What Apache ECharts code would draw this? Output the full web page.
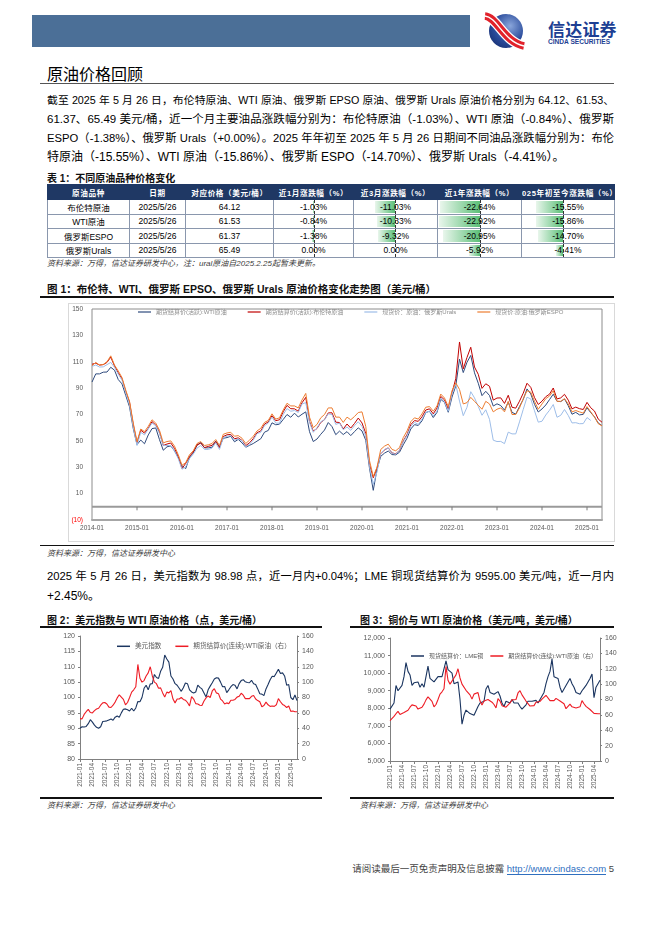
<!DOCTYPE html>
<html><head><meta charset="utf-8">
<script src="https://cdn.jsdelivr.net/npm/echarts@6/dist/echarts.min.js"></script>
<style>
body{margin:0;background:#fff;}
#page{position:relative;width:662px;height:936px;overflow:hidden;font-family:"Liberation Sans","Noto Sans CJK SC",sans-serif;color:#000;}
.abs{position:absolute;}
.line{position:absolute;left:47px;width:567px;height:19px;line-height:19px;font-size:12px;text-align:justify;text-align-last:justify;overflow:hidden;}
.line.last{text-align-last:left;}
.cap{position:absolute;font-size:10px;font-weight:bold;color:#111;white-space:nowrap;}
.src{position:absolute;font-size:8px;font-style:italic;color:#404040;white-space:nowrap;}
.rule{position:absolute;height:1.5px;background:#111;}
table.t{position:absolute;left:47px;top:184px;width:567px;border-collapse:collapse;table-layout:fixed;font-size:8.5px;}
table.t th{background:#1f3864;color:#fff;font-weight:bold;font-size:7.6px;height:14px;padding:0;letter-spacing:0.6px;border:1px solid #1f3864;white-space:nowrap;overflow:hidden;}
table.t td{height:13.5px;padding:0;text-align:center;border:1px solid #8a97ad;position:relative;white-space:nowrap;}
.bar{position:absolute;top:1px;bottom:1px;background:linear-gradient(to left,#5cbf78,#e9f6ec);}
.ax{position:absolute;top:0;bottom:0;width:0;border-left:1px dashed #333;}
.txt{position:relative;}
</style></head>
<body><div id="page">
<div class="abs" style="left:32px;top:15px;width:438px;height:32px;background:#4b6f97;"></div>
<svg class="abs" style="left:482px;top:11px;" width="44" height="40" viewBox="0 0 44 40">
<defs><radialGradient id="lg" cx="0.62" cy="0.35" r="0.85"><stop offset="0" stop-color="#8aa6db"/><stop offset="0.55" stop-color="#2a4c9c"/><stop offset="1" stop-color="#142866"/></radialGradient></defs>
<circle cx="24" cy="20" r="17" fill="url(#lg)"/>
<path d="M3 5 C 15 6, 22 31, 42 35" stroke="#fff" stroke-width="10" fill="none"/>
<path d="M3 5 C 15 6, 22 31, 42 35" stroke="#e1222b" stroke-width="7.5" fill="none"/>
<path d="M3 5 C 15 6, 22 31, 42 35" stroke="#fff" stroke-width="1.4" fill="none"/>
</svg>
<div class="abs" style="left:548px;top:16px;font-size:17px;font-weight:bold;color:#1d3f93;letter-spacing:0.2px;font-family:'Noto Sans CJK SC',sans-serif;white-space:nowrap;">信达证券</div>
<div class="abs" style="left:548px;top:38px;font-size:6.6px;font-weight:bold;color:#1d3f93;white-space:nowrap;">CINDA SECURITIES</div>

<div class="abs" style="left:47px;top:61px;font-size:16px;font-family:'Noto Sans CJK SC',sans-serif;white-space:nowrap;">原油价格回顾</div>
<div class="abs" style="left:40px;top:83px;width:574px;height:1px;background:#555;"></div>

<div class="line" style="top:91px;">截至 2025 年 5 月 26 日，布伦特原油、WTI 原油、俄罗斯 EPSO 原油、俄罗斯 Urals 原油价格分别为 64.12、61.53、</div>
<div class="line" style="top:110px;">61.37、65.49 美元/桶，近一个月主要油品涨跌幅分别为：布伦特原油（-1.03%）、WTI 原油（-0.84%）、俄罗斯</div>
<div class="line" style="top:129px;">ESPO（-1.38%）、俄罗斯 Urals（+0.00%）。2025 年年初至 2025 年 5 月 26 日期间不同油品涨跌幅分别为：布伦</div>
<div class="line last" style="top:148px;">特原油（-15.55%）、WTI 原油（-15.86%）、俄罗斯 ESPO（-14.70%）、俄罗斯 Urals（-4.41%）。</div>

<div class="cap" style="left:47px;top:170px;">表 1：不同原油品种价格变化</div>
<table class="t" id="tbl"></table>
<div class="src" style="left:47px;top:257px;">资料来源：万得，信达证券研发中心，注：ural原油自2025.2.25起暂未更新。</div>

<div class="cap" style="left:47px;top:281px;font-size:10.5px;">图 1：布伦特、WTI、俄罗斯 EPSO、俄罗斯 Urals 原油价格变化走势图（美元/桶）</div>
<div class="rule" style="left:40px;top:296px;width:574px;"></div>
<div class="abs" style="left:68px;top:303px;width:545px;height:237px;border:1px solid #d9d9d9;"></div>
<div class="abs" id="c1" style="left:47px;top:300px;width:567px;height:242px;"></div>
<div class="rule" style="left:40px;top:545px;width:574px;height:1px;"></div>
<div class="src" style="left:47px;top:547px;">资料来源：万得，信达证券研发中心</div>

<div class="line" style="top:567px;">2025 年 5 月 26 日，美元指数为 98.98 点，近一月内+0.04%；LME 铜现货结算价为 9595.00 美元/吨，近一月内</div>
<div class="line last" style="top:587px;">+2.45%。</div>

<div class="cap" style="left:47px;top:612px;">图 2：美元指数与 WTI 原油价格（点，美元/桶）</div>
<div class="rule" style="left:40px;top:626px;width:282px;"></div>
<div class="cap" style="left:360px;top:612px;">图 3：铜价与 WTI 原油价格（美元/吨，美元/桶）</div>
<div class="rule" style="left:350px;top:626px;width:264px;"></div>
<div class="abs" id="c2" style="left:40px;top:628px;width:295px;height:168px;"></div>
<div class="abs" id="c3" style="left:340px;top:628px;width:290px;height:168px;"></div>
<div class="rule" style="left:40px;top:797px;width:282px;"></div>
<div class="rule" style="left:350px;top:797px;width:264px;"></div>
<div class="src" style="left:47px;top:799px;">资料来源：万得，信达证券研发中心</div>
<div class="src" style="left:360px;top:799px;">资料来源：万得，信达证券研发中心</div>

<div class="abs" style="right:48px;top:861px;font-size:9.5px;color:#444;white-space:nowrap;">请阅读最后一页免责声明及信息披露 <span style="color:#2f6fbf;border-bottom:1px solid #2f6fbf;">http://www.cindasc.com</span> 5</div>
</div>
<script>
// ---------- table data ----------
const tableHeaders = ['原油品种','日期','对应价格（美元/桶）','近1月涨跌幅（%）','近3月涨跌幅（%）','近1年涨跌幅（%）','025年初至今涨跌幅（%）'];
const oilNames = ['布伦特原油','WTI原油','俄罗斯ESPO','俄罗斯Urals'];
const oilDates = ['2025/5/26','2025/5/26','2025/5/26','2025/5/26'];
const oilPrices = ['64.12','61.53','61.37','65.49'];
const chg1m = [-1.03,-0.84,-1.38,0.00];
const chg3m = [-11.03,-10.33,-9.32,0.00];
const chg1y = [-22.64,-22.92,-20.95,-5.92];
const chgYtd = [-15.55,-15.86,-14.70,-4.41];

// ---------- figure 1 (monthly, 2014-01 .. 2025-05) ----------
const brent = [108.1,108.9,107.5,107.8,109.5,113.5,106.8,101.6,97.1,87.4,79.4,62.3,
 48.5,58.1,55.9,59.5,64.6,62.0,56.5,46.5,47.6,48.4,44.3,38.0,
 29.0,33.0,38.2,41.6,46.9,48.3,44.9,45.8,46.6,49.5,44.8,53.3,
 54.6,54.9,51.6,52.3,50.3,46.4,48.5,51.7,56.2,57.5,62.7,64.4,
 69.1,65.3,66.0,72.1,76.9,74.4,74.3,72.5,78.9,83.0,64.8,57.4,
 59.4,64.0,66.1,71.2,71.3,64.2,63.9,59.0,62.8,59.7,63.2,67.3,
 63.6,55.7,32.0,22.0,29.4,40.3,43.2,44.7,40.9,40.2,42.7,49.9,
 54.8,62.3,65.4,64.8,68.3,73.4,74.3,70.5,74.9,83.7,81.1,74.2,
 86.5,97.1,125.0,104.6,113.3,121.0,106.0,100.5,89.8,93.3,91.4,80.9,
 82.5,82.6,78.4,84.6,75.5,74.8,80.1,86.2,93.7,90.6,82.9,77.6,
 80.1,83.5,85.4,90.1,81.8,82.6,85.3,80.9,74.3,75.6,74.4,73.8,
 79.2,75.1,72.6,66.5,64.12];
const wti = [94.6,100.8,100.8,102.1,102.2,105.8,103.6,96.5,93.2,84.4,75.8,59.3,
 47.2,50.6,47.8,54.5,59.3,59.8,50.9,42.9,45.5,46.2,42.4,37.2,
 31.0,29.0,37.5,40.8,46.7,48.8,44.7,44.7,45.2,49.8,45.7,52.0,
 52.5,53.5,49.3,51.1,48.5,45.2,46.6,48.0,49.8,51.6,56.6,57.9,
 63.7,62.2,62.7,66.3,70.0,67.9,71.0,68.1,70.2,72.0,57.0,49.5,
 51.4,55.0,58.2,63.9,60.8,54.7,57.4,54.8,57.0,54.0,57.0,59.9,
 57.5,50.5,29.2,12.5,28.5,38.3,40.7,42.3,39.6,39.4,41.4,47.0,
 52.0,59.0,62.3,61.7,65.2,71.4,72.5,67.7,71.6,81.5,79.2,71.7,
 83.2,91.6,112.0,101.8,109.6,114.8,101.6,93.7,84.3,87.6,84.4,76.4,
 78.1,76.8,73.3,79.4,71.6,70.3,76.1,81.4,89.4,85.6,77.7,71.9,
 74.2,77.2,81.3,85.4,80.0,79.8,81.8,76.7,70.2,71.6,69.7,70.1,
 75.1,71.4,68.2,63.5,61.53];
const urals = [106.5,107.5,106.0,106.1,107.8,109.5,105.7,100.6,96.0,86.5,77.5,60.5,
 46.5,56.5,54.5,59.0,63.5,61.5,55.5,46.5,46.5,46.5,42.5,36.5,
 28.5,30.5,36.5,40.0,44.5,46.5,43.5,43.5,44.5,48.5,43.5,52.5,
 53.5,54.0,50.5,51.5,50.0,45.5,47.5,50.5,55.5,56.5,61.5,63.5,
 68.0,63.5,63.5,70.0,74.5,72.5,73.0,71.5,78.0,79.0,64.0,56.5,
 60.0,64.5,66.0,70.5,70.0,62.5,63.5,58.5,60.5,58.0,61.5,64.5,
 61.0,53.5,30.5,17.0,26.5,40.5,43.5,44.5,41.0,39.8,43.0,49.5,
 54.0,61.0,64.0,62.5,66.5,71.5,72.5,69.0,72.5,82.5,79.5,72.5,
 85.6,92.9,80.2,69.1,75.5,87.3,82.6,76.1,69.4,73.6,66.3,50.5,
 49.5,49.6,47.9,56.6,55.3,55.3,64.4,73.9,83.1,81.8,72.8,64.2,
 64.9,69.6,73.2,77.6,67.9,69.4,73.8,69.3,63.6,63.8,63.0,63.1,
 67.7,65.49,null,null,null];
const espo = [107.0,109.5,107.5,108.0,110.0,114.5,107.5,103.0,98.0,88.5,80.0,63.5,
 49.5,59.0,57.0,61.0,66.0,63.5,58.0,48.5,49.5,50.0,46.0,39.5,
 31.5,33.5,39.5,42.5,48.0,49.5,46.5,47.0,48.0,51.0,46.5,55.0,
 56.0,56.5,53.5,54.0,52.0,48.0,50.5,53.5,57.5,59.5,64.0,65.5,
 70.5,66.5,67.5,73.5,78.5,76.5,76.5,75.0,81.0,86.0,68.0,60.0,
 62.5,67.5,70.0,75.0,75.0,68.0,68.0,64.0,68.0,66.0,68.5,71.5,
 72.0,61.0,35.0,23.0,30.0,43.5,46.0,47.5,43.5,42.5,45.0,52.5,
 57.5,64.5,67.5,66.5,70.5,75.5,76.0,72.5,76.5,85.5,82.5,76.0,
 88.0,94.0,89.0,78.0,79.0,83.0,80.0,77.0,74.0,80.0,78.0,72.0,
 74.0,75.0,72.0,80.0,70.0,70.0,75.0,82.0,88.0,87.0,80.0,74.0,
 78.0,82.0,84.0,88.0,80.0,80.0,82.0,78.0,72.0,73.0,72.0,71.0,
 76.0,72.0,68.0,63.0,61.37];
const fig1Names = ['期货结算价(活跃):WTI原油','期货结算价(活跃):布伦特原油','现货价：原油：俄罗斯Urals','现货价:原油:俄罗斯ESPO'];

// ---------- figures 2 & 3 (half-monthly, 2021-01 .. 2025-05) ----------
const dxy = [90.0,90.5,90.4,90.6,91.5,92.8,92.0,91.0,90.3,90.0,90.5,92.2,92.3,92.4,92.7,93.0,92.6,93.6,94.0,93.6,95.0,96.2,96.3,96.0,
 95.6,96.5,95.6,96.6,98.7,98.6,100.0,103.0,104.0,102.5,104.4,104.5,107.5,106.5,106.2,108.5,109.8,113.8,112.5,111.5,107.0,106.0,104.5,104.0,
 103.0,102.0,103.2,104.7,104.5,102.5,101.8,101.5,101.8,104.0,103.3,102.8,101.5,100.2,102.5,103.7,104.8,106.0,106.4,106.3,105.0,103.5,103.6,101.6,
 102.5,103.5,104.2,104.0,102.8,104.5,105.5,105.8,105.1,104.9,104.8,105.6,104.5,104.2,102.8,101.2,101.1,100.6,102.8,104.2,105.8,106.9,106.8,108.0,
 109.2,107.8,108.0,107.0,104.0,104.2,100.0,99.3,100.8,98.98];
const wtiCont = [52.5,52.2,58.0,61.5,64.5,60.5,60.0,63.0,65.0,66.0,70.0,73.0,73.5,71.5,67.5,67.0,70.0,74.0,79.5,83.5,80.5,77.5,70.5,73.5,
 80.0,87.0,90.0,94.0,123.0,105.0,100.0,102.0,108.0,112.0,120.0,108.0,100.0,98.0,92.0,92.5,86.0,80.5,87.0,86.0,89.0,78.0,73.0,78.0,
 78.0,80.0,77.5,76.5,73.5,69.0,81.0,78.0,72.0,71.5,70.0,69.5,75.5,79.5,82.0,80.0,88.5,91.5,86.0,85.0,78.0,75.5,71.5,73.0,
 72.0,76.5,76.5,77.5,80.5,81.5,85.5,83.0,78.5,78.5,78.5,81.5,82.5,78.0,76.0,74.5,68.0,69.5,74.0,70.5,68.5,69.0,68.5,70.5,
 78.5,74.5,71.0,69.5,67.0,69.0,62.0,62.5,61.5,61.53];
const copper = [7950,7850,8300,9300,9000,8950,9300,9800,10600,10100,9900,9300,9450,9500,9500,9200,9400,9200,9800,10400,9700,9700,9500,9600,
 9800,9700,9800,9900,10700,10200,10300,10000,9400,9300,9500,8500,7100,7600,7900,8000,7700,7700,7600,7550,8100,8300,8400,8400,
 9100,9300,8900,8900,8800,8900,8950,8700,8300,8100,8400,8500,8300,8500,8300,8350,8300,8100,7950,8000,8200,8400,8500,8400,
 8300,8450,8300,8400,8700,8900,9400,9800,10100,10800,9800,9700,9700,9200,8900,9100,9100,9500,9700,9400,9200,8900,8900,8800,
 9000,9150,9300,9400,9700,9950,8600,9200,9400,9595];
const fig2Names = ['美元指数','期货结算价(连续):WTI原油（右）'];
const fig3Names = ['现货结算价：LME铜','期货结算价(连续):WTI原油（右）'];

// ---------- build table ----------
(function(){
  const tbl = document.getElementById('tbl');
  const widths = [82,56,88,80,84,84,93];
  let h = '<colgroup>' + widths.map(w=>'<col style="width:'+w+'px">').join('') + '</colgroup>';
  h += '<tr>' + tableHeaders.map(t=>'<th>'+t+'</th>').join('') + '</tr>';
  const axisPos = [0.51,0.49,0.5,0.45];
  const pxPerPct = 1.75;
  function barCell(v, k){
    const w = Math.abs(v)*pxPerPct;
    const pct = (axisPos[k]*100).toFixed(1);
    return '<td><div class="bar" style="right:calc(' + (100-pct) + '% );width:'+w+'px"></div><div class="ax" style="left:'+pct+'%"></div><span class="txt">'+v.toFixed(2)+'%</span></td>';
  }
  for (let i=0;i<oilNames.length;i++){
    h += '<tr><td>'+oilNames[i]+'</td><td>'+oilDates[i]+'</td><td>'+oilPrices[i]+'</td>'+
      barCell(chg1m[i],0)+barCell(chg3m[i],1)+barCell(chg1y[i],2)+barCell(chgYtd[i],3)+'</tr>';
  }
  tbl.innerHTML = h;
})();

// fit justified lines
document.querySelectorAll('.line').forEach(el=>{
  let fs = 12;
  el.style.fontSize = fs+'px';
  while (el.scrollHeight > 21 && fs > 8){ fs -= 0.25; el.style.fontSize = fs+'px'; }
});

// ---------- charts ----------
const FF = '"Liberation Sans","Noto Sans CJK SC",sans-serif';
const months1 = [];
for (let y=2014;y<=2025;y++) for (let m=1;m<=12;m++){ if (y===2025 && m>5) break; months1.push(y+'-'+String(m).padStart(2,'0')); }
const halfMonths = [];
for (let y=2021;y<=2025;y++) for (let m=1;m<=12;m++){ if (y===2025 && m>5) break; const mm=String(m).padStart(2,'0'); halfMonths.push(y+'-'+mm+'-01'); halfMonths.push(y+'-'+mm+'-16'); }

const c1 = echarts.init(document.getElementById('c1'));
const f1colors = ['#2e4a7d','#c00000','#9dbde8','#ed7d31'];
const f1data = [wti, brent, urals, espo];
c1.setOption({
  animation:false,
  textStyle:{fontFamily:FF},
  legend:{top:4,left:86,width:480,icon:'rect',itemWidth:13,itemHeight:1.2,itemGap:21,textStyle:{fontSize:6,color:'#8c8c8c',fontFamily:FF},data:fig1Names},
  grid:{left:45,right:12,top:9,bottom:22,show:true,borderColor:'#8c8c8c',borderWidth:1},
  xAxis:{type:'category',data:months1,boundaryGap:false,position:'bottom',
     axisLine:{onZero:false,lineStyle:{color:'#a6a6a6',width:2}},axisTick:{show:false},
     axisLabel:{interval:(i)=>i%12===0,fontSize:6.5,color:'#595959',margin:5,fontFamily:FF},splitLine:{show:false}},
  yAxis:{type:'value',min:-10,max:150,interval:20,axisLine:{show:false},axisTick:{show:false},splitLine:{show:false},
     axisLabel:{fontSize:6.5,margin:9,fontFamily:FF,color:(v)=>Number(v)<0?'#ff0000':'#595959',formatter:(v)=>v<0?'('+(-v)+')':String(v)}},
  series:fig1Names.map((n,i)=>({name:n,type:'line',data:f1data[i],showSymbol:false,symbol:'none',connectNulls:false,z:3,
      lineStyle:{width:1,color:f1colors[i]},itemStyle:{color:f1colors[i]}}))
});
// zero line with yearly ticks, positioned through the chart's own scales
(function(){
  const y0 = c1.convertToPixel({yAxisIndex:0}, 0);
  const xa = c1.convertToPixel({xAxisIndex:0}, months1[0]);
  const xb = c1.convertToPixel({xAxisIndex:0}, months1[months1.length-1]);
  const g = [{type:'line',z:2,silent:true,shape:{x1:xa,y1:y0,x2:xb,y2:y0},style:{stroke:'#9a9a9a',lineWidth:2}}];
  months1.forEach((m,i)=>{
    if (i%12===0 && i>0){
      const x = c1.convertToPixel({xAxisIndex:0}, m);
      g.push({type:'line',z:2,silent:true,shape:{x1:x,y1:y0,x2:x,y2:y0+3.5},style:{stroke:'#7a7a7a',lineWidth:1}});
    }
  });
  c1.setOption({graphic:g});
})();

function dualOpt(leftSeriesName, leftData, leftAxis, legendLeft, legendTop, gridCfg, leftFmt, gap, lfs){
  return {
    animation:false,
    textStyle:{fontFamily:FF},
    legend:{top:legendTop,left:legendLeft,width:260,icon:'rect',itemWidth:13,itemHeight:1.5,itemGap:gap,textStyle:{fontSize:lfs,color:'#595959',fontFamily:FF}},
    grid:gridCfg,
    xAxis:{type:'category',data:halfMonths,boundaryGap:false,
      axisLine:{lineStyle:{color:'#808080',width:1}},
      axisTick:{show:true,interval:(i)=>i%6===0,length:3,lineStyle:{color:'#808080'}},
      axisLabel:{interval:(i)=>i%6===0,rotate:90,fontSize:6.5,color:'#595959',margin:4,formatter:(v)=>v.slice(0,7),fontFamily:FF}},
    yAxis:[
      Object.assign({type:'value',position:'left',axisLine:{show:true,lineStyle:{color:'#808080'}},axisTick:{show:true,length:2,lineStyle:{color:'#808080'}},splitLine:{show:false},
        axisLabel:{fontSize:7,color:'#595959',margin:5,fontFamily:FF,formatter:leftFmt}},leftAxis),
      {type:'value',position:'right',min:0,max:160,interval:20,axisLine:{show:true,lineStyle:{color:'#808080'}},axisTick:{show:true,length:2,lineStyle:{color:'#808080'}},splitLine:{show:false},
        axisLabel:{fontSize:7,color:'#595959',margin:5,fontFamily:FF}}
    ],
    series:[
      {name:leftSeriesName,type:'line',data:leftData,yAxisIndex:0,showSymbol:false,symbol:'none',lineStyle:{width:1.1,color:'#1b3560'},itemStyle:{color:'#1b3560'}},
      {name:'期货结算价(连续):WTI原油（右）',type:'line',data:wtiCont,yAxisIndex:1,showSymbol:false,symbol:'none',lineStyle:{width:1.1,color:'#ee1c25'},itemStyle:{color:'#ee1c25'}}
    ]
  };
}
const c2 = echarts.init(document.getElementById('c2'));
c2.setOption(dualOpt(fig2Names[0], dxy, {min:80,max:120,interval:5}, 72, 10, {left:40,right:38,top:8,bottom:37}, (v)=>String(v), 14, 6.6));
const c3 = echarts.init(document.getElementById('c3'));
c3.setOption(dualOpt(fig3Names[0], copper, {min:5000,max:12000,interval:1000}, 66, 20, {left:50,right:30,top:10,bottom:35}, (v)=>Number(v).toLocaleString('en-US'), 7, 6));
</script>
</body></html>
